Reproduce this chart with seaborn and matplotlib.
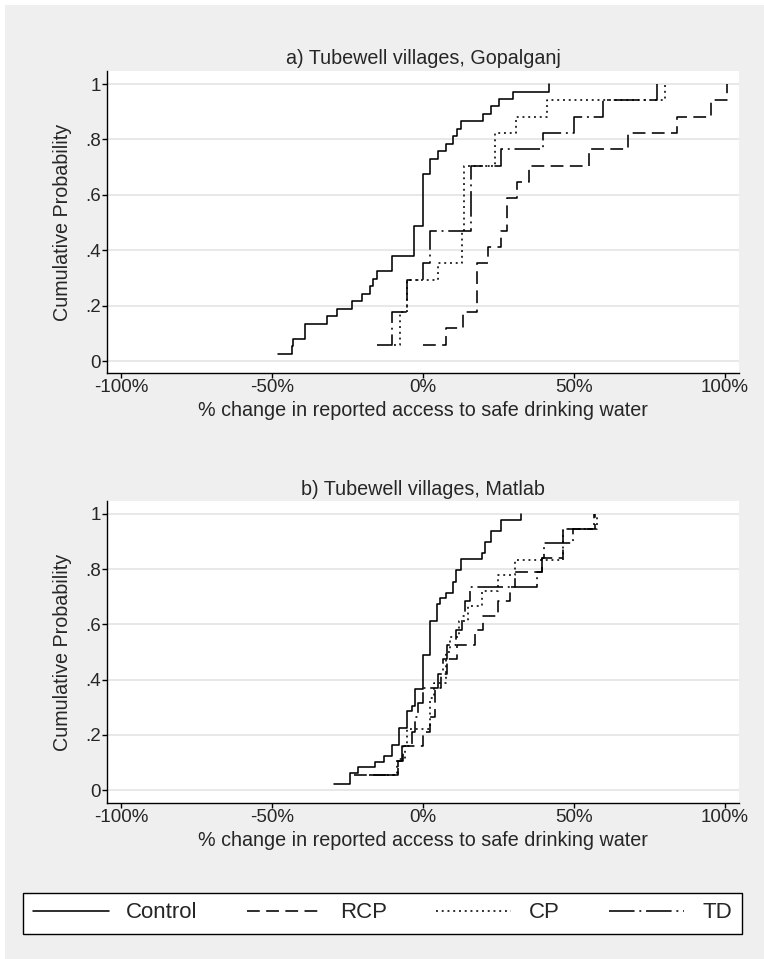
import numpy as np
import pandas as pd
import matplotlib
matplotlib.use("Agg")
import matplotlib.pyplot as plt
import seaborn as sns
from matplotlib.lines import Line2D
from matplotlib.patches import Rectangle

# ---------------------------------------------------------------------------
# Village-level % change in reported access to safe drinking water
# ---------------------------------------------------------------------------
groups = ["Control", "RCP", "CP", "TD"]

# a) Tubewell villages, Gopalganj
gop_control = [-47.9, -43.5, -42.9, -38.9, -38.9, -31.9, -28.4, -23.4, -20.3,
               -17.5, -16.4, -15.1, -10.2, -10.2, -3.1, -3.1, -3.1, -3.1,
               0.0, 0.0, 0.0, 0.0, 0.0, 0.0, 0.0, 2.4, 2.4, 5.1, 7.5, 10.0,
               11.1, 12.5, 20.0, 22.4, 25.2, 29.9, 41.7]
gop_rcp = [0.0, 7.5, 13.1, 17.8, 17.8, 17.8, 21.6, 25.7, 27.7, 27.7, 31.0,
           35.1, 55.0, 67.8, 84.0, 95.4, 100.6]
gop_cp = [-9.5, -7.6, -7.6, -5.4, -5.4, 4.9, 12.8, 12.8, 13.6, 13.6, 13.6,
          13.6, 23.7, 23.7, 30.7, 41.0, 80.1]
gop_td = [-15.3, -10.4, -10.4, -5.4, -5.4, 0.0, 2.3, 2.3, 15.8, 15.8, 15.8,
          15.8, 25.8, 39.6, 50.0, 59.7, 77.4]

# b) Tubewell villages, Matlab
mat_control = [-29.5, -24.0, -24.0, -21.4, -15.9, -12.9, -10.4, -10.4, -7.8,
               -7.8, -7.8, -5.2, -5.2, -5.2, -3.7, -2.6, -2.6, -2.6,
               0.0, 0.0, 0.0, 0.0, 0.0, 0.0, 2.3, 2.3, 2.3, 2.3, 2.3, 2.3,
               4.5, 4.5, 4.5, 5.6, 7.6, 9.8, 9.8, 10.9, 10.9, 12.6, 12.6,
               19.4, 20.5, 20.5, 22.4, 22.4, 25.8, 25.8, 32.5]
mat_rcp = [-23.0, -8.4, -6.6, 0.0, 2.3, 4.0, 4.0, 6.0, 8.0, 11.3, 17.2, 19.8,
           24.8, 28.8, 30.5, 39.5, 46.3, 46.3, 56.8]
mat_cp = [-12.0, -8.5, -6.0, -5.2, 2.3, 2.3, 3.5, 7.5, 7.5, 9.0, 12.0, 15.0,
          19.4, 24.8, 30.5, 46.3, 46.3, 57.5]
mat_td = [-18.0, -8.3, -7.0, -3.5, -2.7, -1.5, 0.0, 5.0, 6.5, 8.0, 11.0, 13.0,
          14.0, 15.5, 37.9, 39.5, 40.0, 49.7, 56.5]

panel_titles = ["a) Tubewell villages, Gopalganj", "b) Tubewell villages, Matlab"]
x_ticks = [-100, -50, 0, 50, 100]
x_tick_labels = ["-100%", "-50%", "0%", "50%", "100%"]
y_ticks = [0, 0.2, 0.4, 0.6, 0.8, 1.0]
y_tick_labels = ["0", ".2", ".4", ".6", ".8", "1"]
x_title = "% change in reported access to safe drinking water"
y_title = "Cumulative Probability"

panels = [
    dict(zip(groups, [gop_control, gop_rcp, gop_cp, gop_td])),
    dict(zip(groups, [mat_control, mat_rcp, mat_cp, mat_td])),
]

# line patterns (in multiples of the line width)
dash_map = {"Control": "", "RCP": (8, 4), "CP": (1.2, 2.4), "TD": (16, 3, 1.2, 3)}
palette = {g: "black" for g in groups}


def cumulative_frame(series):
    rows = []
    for g in groups:
        v = np.sort(np.asarray(series[g], dtype=float))
        n = len(v)
        for i, x in enumerate(v):
            rows.append((g, x, (i + 1) / n))
    return pd.DataFrame(rows, columns=["group", "change", "cum"])


sns.set_theme(style="white")
plt.rcParams["font.family"] = ["Liberation Sans", "DejaVu Sans"]

W, H = 764, 959
fig = plt.figure(figsize=(W / 100, H / 100), dpi=100)
fig.patch.set_facecolor("white")
fig.add_artist(Rectangle((5 / W, 0), 1 - 5 / W, 1 - 5 / H, transform=fig.transFigure,
                         facecolor="#EFEFEF", edgecolor="none", zorder=-10))


def fx(px):
    return px / W


def fy(py):
    return 1 - py / H


TICK_FS = 13.5
TEXT_FS = 14.2
# pixel boxes: (left, top, right, bottom)
boxes = [(107, 71, 739, 373), (107, 501, 739, 803)]
title_y = [59, 489]
xlab_y = [411, 841]
ylims = [(-0.043, 1.047), (-0.047, 1.047)]

for k, (series, (l, t, r, b)) in enumerate(zip(panels, boxes)):
    ax = fig.add_axes([fx(l), fy(b), fx(r) - fx(l), fy(t) - fy(b)])
    ax.set_facecolor("white")
    df = cumulative_frame(series)
    sns.lineplot(data=df, x="change", y="cum", hue="group", style="group",
                 hue_order=groups, style_order=groups, palette=palette,
                 dashes=dash_map, estimator=None, sort=False,
                 drawstyle="steps-post", lw=1.15, legend=False, ax=ax)
    ax.set_xlim(-104.6, 104.6)
    ax.set_ylim(*ylims[k])
    ax.set_xticks(x_ticks)
    ax.set_xticklabels(x_tick_labels)
    ax.set_yticks(y_ticks)
    ax.set_yticklabels(y_tick_labels)
    ax.set_xlabel("")
    ax.set_ylabel("")
    ax.yaxis.grid(True, color="#E4E4E4", lw=1.2)
    ax.xaxis.grid(False)
    ax.set_axisbelow(True)
    for s in ["top", "right"]:
        ax.spines[s].set_visible(False)
    for s in ["left", "bottom"]:
        ax.spines[s].set_color("black")
        ax.spines[s].set_linewidth(1.0)
    ax.tick_params(axis="both", direction="out", length=3.5, width=1.0,
                   color="black", labelsize=TICK_FS, pad=1,
                   bottom=True, left=True)
    fig.text(fx(423), fy(title_y[k]), panel_titles[k], ha="center", va="center",
             fontsize=TEXT_FS)
    fig.text(fx(423), fy(xlab_y[k]), x_title, ha="center", va="center",
             fontsize=TEXT_FS)
    fig.text(fx(62), fy((t + b) / 2), y_title, ha="center", va="center",
             rotation=90, fontsize=TEXT_FS)

handles = [Line2D([], [], color="black", lw=1.15, linestyle="-")]
for g in groups[1:]:
    handles.append(Line2D([], [], color="black", lw=1.15, dashes=dash_map[g]))
leg = fig.legend(handles, groups, loc="center", ncol=4, mode="expand",
                 bbox_to_anchor=(fx(23), fy(937), fx(742) - fx(23), fy(889) - fy(937)),
                 bbox_transform=fig.transFigure, frameon=True, fancybox=False,
                 edgecolor="black", facecolor="white", framealpha=1,
                 fontsize=16, handlelength=3.4, handletextpad=0.8,
                 borderaxespad=0, borderpad=0.45)
leg.get_frame().set_linewidth(1.0)

fig.savefig("out.png", dpi=100, facecolor=fig.get_facecolor())
